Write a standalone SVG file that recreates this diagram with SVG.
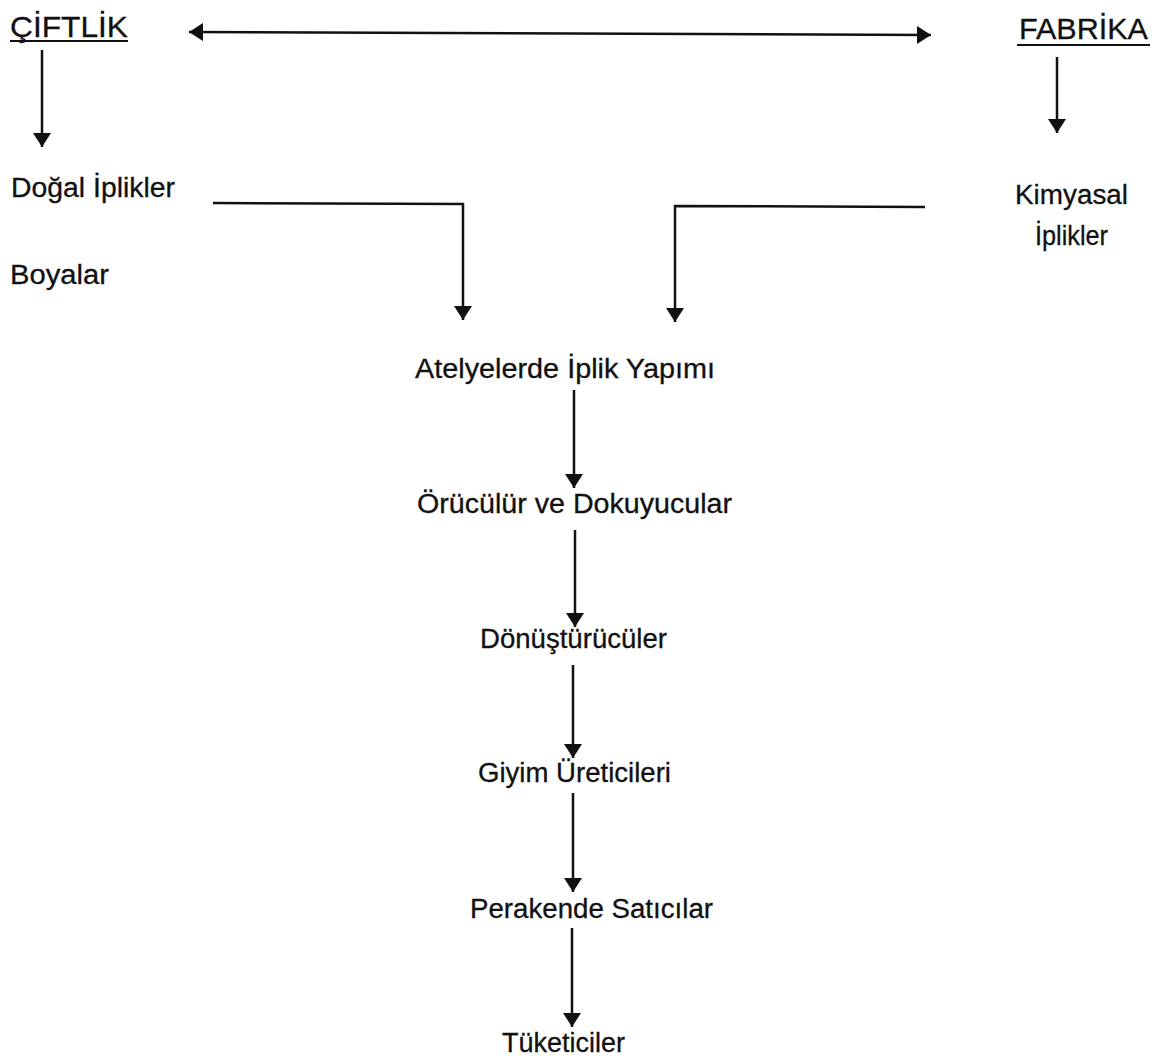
<svg xmlns="http://www.w3.org/2000/svg" width="1163" height="1059" viewBox="0 0 1163 1059">
  <style>
    .lbl { font-family: "Liberation Sans", Arial, sans-serif; font-size: 27px; fill: #111; stroke: #111; stroke-width: 0.3; }
    .head { font-family: "Liberation Sans", Arial, sans-serif; font-size: 29px; fill: #111; stroke: #111; stroke-width: 0.3; }
    .ul { stroke: #111; stroke-width: 2; }
    .conn { fill: none; stroke: #111; stroke-width: 2.5; }
  </style>
  <defs>
    <!-- solid triangular head shared by every connector -->
    <marker id="arrow" markerUnits="userSpaceOnUse" markerWidth="16" markerHeight="18" refX="14" refY="9" orient="auto-start-reverse">
      <path d="M0,0 L14,9 L0,18 Z" fill="#111"/>
    </marker>
  </defs>

  <rect width="1163" height="1059" fill="#fff"/>

  <g id="connectors">
    <line class="conn" x1="189" y1="32" x2="931" y2="35" marker-start="url(#arrow)" marker-end="url(#arrow)"/>
    <line class="conn" x1="42" y1="50" x2="42" y2="147" marker-end="url(#arrow)"/>
    <line class="conn" x1="1057" y1="57" x2="1057" y2="133" marker-end="url(#arrow)"/>
    <polyline class="conn" points="213,203 463,204 463,320" marker-end="url(#arrow)"/>
    <polyline class="conn" points="925,207 675,206 675,322" marker-end="url(#arrow)"/>
    <line class="conn" x1="574" y1="390" x2="574" y2="488" marker-end="url(#arrow)"/>
    <line class="conn" x1="575" y1="530" x2="575" y2="627" marker-end="url(#arrow)"/>
    <line class="conn" x1="573" y1="665" x2="573" y2="758" marker-end="url(#arrow)"/>
    <line class="conn" x1="573" y1="793" x2="573" y2="892" marker-end="url(#arrow)"/>
    <line class="conn" x1="572" y1="928" x2="572" y2="1027" marker-end="url(#arrow)"/>
  </g>

  <g id="ciftlik">
    <text class="head" x="10" y="37" textLength="118" lengthAdjust="spacingAndGlyphs">ÇİFTLİK</text>
    <line class="ul" x1="10" y1="41" x2="128" y2="41"/>
  </g>
  <g id="fabrika">
    <text class="head" x="1019" y="39" textLength="129" lengthAdjust="spacingAndGlyphs">FABRİKA</text>
    <line class="ul" x1="1017" y1="45" x2="1150" y2="45"/>
  </g>
  <g id="dogal-iplikler"><text class="lbl" x="11" y="197" textLength="164" lengthAdjust="spacingAndGlyphs">Doğal İplikler</text></g>
  <g id="boyalar"><text class="lbl" x="10" y="284" textLength="99" lengthAdjust="spacingAndGlyphs">Boyalar</text></g>
  <g id="kimyasal-iplikler">
    <text class="lbl" x="1015" y="204" textLength="113" lengthAdjust="spacingAndGlyphs">Kimyasal</text>
    <text class="lbl" x="1035" y="245" textLength="73" lengthAdjust="spacingAndGlyphs">İplikler</text>
  </g>
  <g id="atelyeler"><text class="lbl" x="415" y="378" textLength="300" lengthAdjust="spacingAndGlyphs">Atelyelerde İplik Yapımı</text></g>
  <g id="orucu"><text class="lbl" x="417" y="513" textLength="315" lengthAdjust="spacingAndGlyphs">Örücülür ve Dokuyucular</text></g>
  <g id="donusturuculer"><text class="lbl" x="480" y="648" textLength="187" lengthAdjust="spacingAndGlyphs">Dönüştürücüler</text></g>
  <g id="giyim"><text class="lbl" x="478" y="782" textLength="193" lengthAdjust="spacingAndGlyphs">Giyim Üreticileri</text></g>
  <g id="perakende"><text class="lbl" x="470" y="918" textLength="243" lengthAdjust="spacingAndGlyphs">Perakende Satıcılar</text></g>
  <g id="tuketiciler"><text class="lbl" x="502" y="1052" textLength="123" lengthAdjust="spacingAndGlyphs">Tüketiciler</text></g>
</svg>
